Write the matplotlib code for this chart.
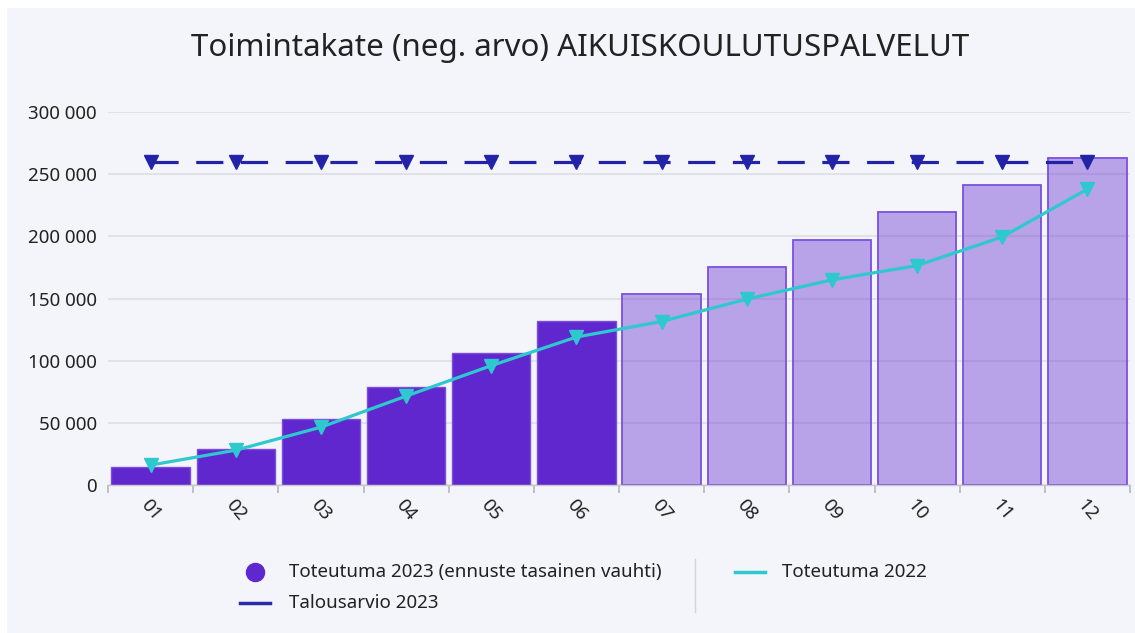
import matplotlib
matplotlib.use("Agg")
import matplotlib.pyplot as plt
from matplotlib.patches import Rectangle
from matplotlib.lines import Line2D
from matplotlib.ticker import FuncFormatter, FixedLocator

plt.rcParams['font.family'] = ['Noto Sans', 'DejaVu Sans']

months = ['01', '02', '03', '04', '05', '06', '07', '08', '09', '10', '11', '12']
toteutuma_2023 = [14500, 29000, 53000, 79000, 106000, 132000,
                  153500, 175500, 197000, 219500, 241000, 263000]
n_actual = 6  # months 01-06 actual, rest forecast
talousarvio_2023 = [260000] * 12
toteutuma_2022 = [16000, 28000, 46500, 71500, 96000, 119000,
                  131500, 149500, 165000, 176500, 199500, 238000]
yticks = [0, 50000, 100000, 150000, 200000, 250000, 300000]

W, H = 1135, 633
fig = plt.figure(figsize=(W / 100, H / 100), dpi=100, facecolor='white')
bg = '#f4f5fa'
fig.patches.append(Rectangle((7 / W, 0), 1 - 7 / W, 1 - 8 / H, transform=fig.transFigure,
                             facecolor=bg, edgecolor='none', zorder=-10))

ax = fig.add_axes([108 / W, 148 / H, (1130 - 108) / W, (485 - 112) / H])
ax.set_facecolor(bg)
ax.patch.set_alpha(0)

x = list(range(len(months)))
dark = '#5f27cd'
for i, v in enumerate(toteutuma_2023):
    if i < n_actual:
        ax.bar(i, v, width=0.92, color=dark, edgecolor='#7a4fe0', linewidth=1, zorder=2)
    else:
        ax.bar(i, v, width=0.92, color=(0.372, 0.153, 0.804, 0.40), edgecolor='#7a4fe0',
               linewidth=1.3, zorder=2)

ax.plot(x, talousarvio_2023, color='#2323a8', linestyle=(0, (8.5, 5.5)), linewidth=2.3,
        marker='v', markersize=10, zorder=4)
ax.plot(x, toteutuma_2022, color='#2ec9cf', linewidth=2.3, marker='v', markersize=10, zorder=3)

ax.set_xlim(-0.5, len(months) - 0.5)
ax.set_ylim(0, 300000)
ax.set_yticks(yticks)
ax.yaxis.set_major_formatter(FuncFormatter(lambda v, p: f"{int(v):,}".replace(",", " ")))
ax.grid(axis='y', color='#e1e2e8', linewidth=1.5, zorder=0)
ax.set_axisbelow(True)
for s in ['top', 'right', 'left']:
    ax.spines[s].set_visible(False)
ax.spines['bottom'].set_color('#c8c8cc')
ax.spines['bottom'].set_linewidth(1)
ax.tick_params(axis='y', length=0, labelsize=13.5, pad=8, labelcolor='#222222')

ax.set_xticks(x)
ax.set_xticklabels(months, rotation=-50, ha='center', va='top', fontsize=13.5, color='#222222')
ax.tick_params(axis='x', which='major', length=0, pad=8)
ax.xaxis.set_minor_locator(FixedLocator([i - 0.5 for i in range(len(months) + 1)]))
ax.tick_params(axis='x', which='minor', length=6, color='#b8b8bc', width=1.2)

fig.text(580 / W, 1 - 48 / H, 'Toimintakate (neg. arvo) AIKUISKOULUTUSPALVELUT',
         ha='center', va='center', fontsize=22.5, color='#222222')

# legend
def fx(px):
    return px / W

def fy(py):
    return 1 - py / H

fig.add_artist(Line2D([fx(255)], [fy(572)], marker='o', markersize=13, color=dark,
                      linestyle='none', transform=fig.transFigure))
fig.text(fx(289), fy(572), 'Toteutuma 2023 (ennuste tasainen vauhti)', ha='left', va='center',
         fontsize=13.5, color='#222222')
fig.add_artist(Line2D([fx(240), fx(270)], [fy(603), fy(603)], color='#2a2aa8', linewidth=2.5,
                      transform=fig.transFigure))
fig.text(fx(289), fy(603), 'Talousarvio 2023', ha='left', va='center',
         fontsize=13.5, color='#222222')
fig.add_artist(Line2D([fx(695), fx(695)], [fy(559), fy(612)], color='#d4d4d8', linewidth=1,
                      transform=fig.transFigure))
fig.add_artist(Line2D([fx(735), fx(765)], [fy(572), fy(572)], color='#2ec9cf', linewidth=2.5,
                      transform=fig.transFigure))
fig.text(fx(782), fy(572), 'Toteutuma 2022', ha='left', va='center',
         fontsize=13.5, color='#222222')

fig.savefig('out.png', dpi=100, facecolor='white')
